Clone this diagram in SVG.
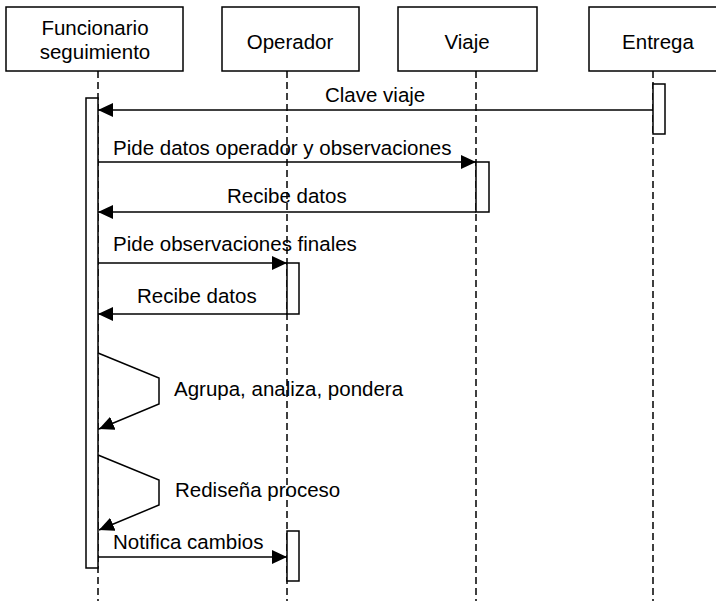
<svg xmlns="http://www.w3.org/2000/svg" width="716" height="601" viewBox="0 0 716 601">
  <style>
    .box { fill: #ffffff; stroke: #000000; stroke-width: 1.5; }
    .life { fill: none; stroke: #000000; stroke-width: 1.5; stroke-dasharray: 7 4; }
    .act { fill: #ffffff; stroke: #000000; stroke-width: 1.5; }
    .msg { fill: none; stroke: #000000; stroke-width: 1.5; }
    text { font-family: "Liberation Sans", Arial, sans-serif; font-size: 20.5px; fill: #000000; }
    .c { text-anchor: middle; }
  </style>
  <defs>
    <marker id="arrow" markerUnits="userSpaceOnUse" markerWidth="16" markerHeight="16" refX="15" refY="7" orient="auto">
      <path d="M0,0 L15,7 L0,14 z" fill="#000000"/>
    </marker>
  </defs>

  <rect width="716" height="601" fill="#ffffff"/>

  <!-- lifelines -->
  <g id="lifelines">
    <line class="life" x1="98" y1="71" x2="98" y2="601"/>
    <line class="life" x1="287" y1="71" x2="287" y2="601"/>
    <line class="life" x1="476" y1="71" x2="476" y2="601"/>
    <line class="life" x1="653" y1="71" x2="653" y2="601"/>
  </g>

  <!-- participants -->
  <g id="funcionario">
    <rect class="box" x="6" y="7" width="177" height="64"/>
    <text class="c" x="95" y="35">Funcionario</text>
    <text class="c" x="95" y="59">seguimiento</text>
    <rect class="act" x="86" y="98" width="12" height="470"/>
  </g>
  <g id="operador">
    <rect class="box" x="222" y="7" width="137" height="64"/>
    <text class="c" x="290" y="49">Operador</text>
    <rect class="act" x="287" y="263" width="12" height="51"/>
    <rect class="act" x="287" y="531" width="12" height="50"/>
  </g>
  <g id="viaje">
    <rect class="box" x="398" y="7" width="139" height="64"/>
    <text class="c" x="467" y="49">Viaje</text>
    <rect class="act" x="476" y="162" width="13" height="50"/>
  </g>
  <g id="entrega">
    <rect class="box" x="589" y="7" width="139" height="64"/>
    <text class="c" x="658" y="49">Entrega</text>
    <rect class="act" x="653" y="84" width="12" height="50"/>
  </g>

  <!-- messages -->
  <g id="connectors">
    <line class="msg" x1="653" y1="110" x2="98" y2="110" marker-end="url(#arrow)"/>
    <line class="msg" x1="98" y1="162" x2="476" y2="162" marker-end="url(#arrow)"/>
    <line class="msg" x1="476" y1="212" x2="98" y2="212" marker-end="url(#arrow)"/>
    <line class="msg" x1="98" y1="263" x2="287" y2="263" marker-end="url(#arrow)"/>
    <line class="msg" x1="287" y1="314" x2="98" y2="314" marker-end="url(#arrow)"/>
    <polyline class="msg" points="98,353 159,378 159,404 99,429" marker-end="url(#arrow)"/>
    <polyline class="msg" points="98,455 159,480 159,505 99,530" marker-end="url(#arrow)"/>
    <line class="msg" x1="98" y1="557" x2="287" y2="557" marker-end="url(#arrow)"/>
  </g>

  <!-- message labels -->
  <g id="labels">
    <text x="325" y="102">Clave viaje</text>
    <text x="113" y="155">Pide datos operador y observaciones</text>
    <text x="227" y="203">Recibe datos</text>
    <text x="113" y="251">Pide observaciones finales</text>
    <text x="137" y="303">Recibe datos</text>
    <text x="174" y="396">Agrupa, analiza, pondera</text>
    <text x="175" y="497">Rediseña proceso</text>
    <text x="113" y="549">Notifica cambios</text>
  </g>
</svg>
